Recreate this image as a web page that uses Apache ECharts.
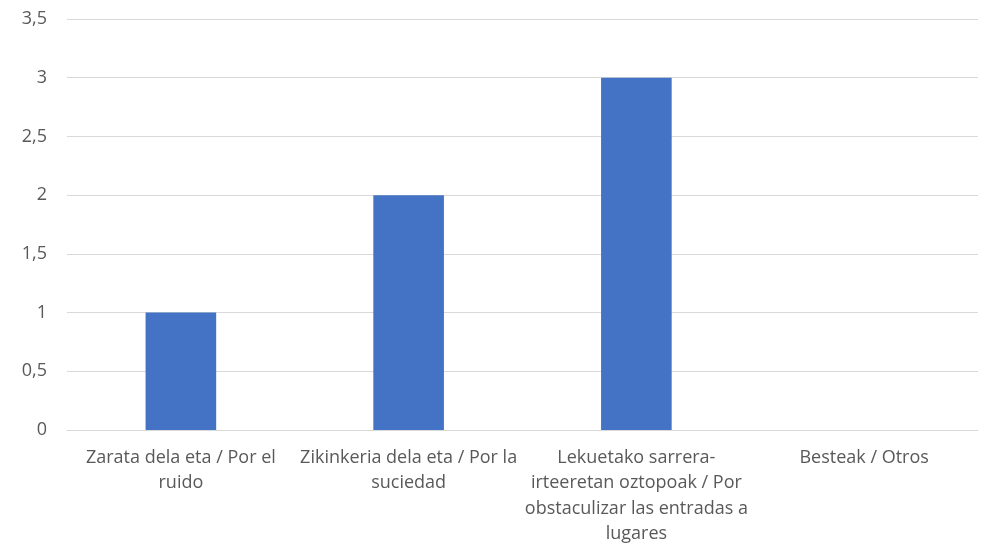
<!DOCTYPE html>
<html><head><meta charset="utf-8">
<script src="https://cdn.jsdelivr.net/npm/echarts@6/dist/echarts.min.js"></script>
<style>html,body{margin:0;padding:0;background:#fff}#c{width:984px;height:547px}</style>
</head><body><div id="c"></div>
<script>
const categories = [
  "Zarata dela eta / Por el\nruido",
  "Zikinkeria dela eta / Por la\nsuciedad",
  "Lekuetako sarrera-\nirteeretan oztopoak / Por\nobstaculizar las entradas a\nlugares",
  "Besteak / Otros"
];
const values = [1, 2, 3, 0];
const yMin = 0, yMax = 3.5, yStep = 0.5;

const chart = echarts.init(document.getElementById('c'), null, {renderer: 'canvas'});
chart.setOption({
  animation: false,
  grid: {left: 67, right: 6, top: 19, bottom: 117, containLabel: false},
  xAxis: {
    type: 'category',
    data: categories,
    axisLine: {lineStyle: {color: '#d9d9d9', width: 1}},
    axisTick: {show: false},
    axisLabel: {
      color: '#595959', fontFamily: 'Open Sans', fontSize: 18,
      lineHeight: 25.5, margin: 15, interval: 0
    }
  },
  yAxis: {
    type: 'value', min: yMin, max: yMax, interval: yStep,
    axisLine: {show: false}, axisTick: {show: false},
    splitLine: {lineStyle: {color: '#d9d9d9', width: 1}},
    axisLabel: {
      color: '#595959', fontFamily: 'Open Sans', fontSize: 18, margin: 20,
      formatter: v => String(v).replace('.', ',')
    }
  },
  series: [{
    type: 'bar', data: values, barWidth: '31%',
    itemStyle: {color: '#4472C4'}
  }]
});
</script></body></html>
